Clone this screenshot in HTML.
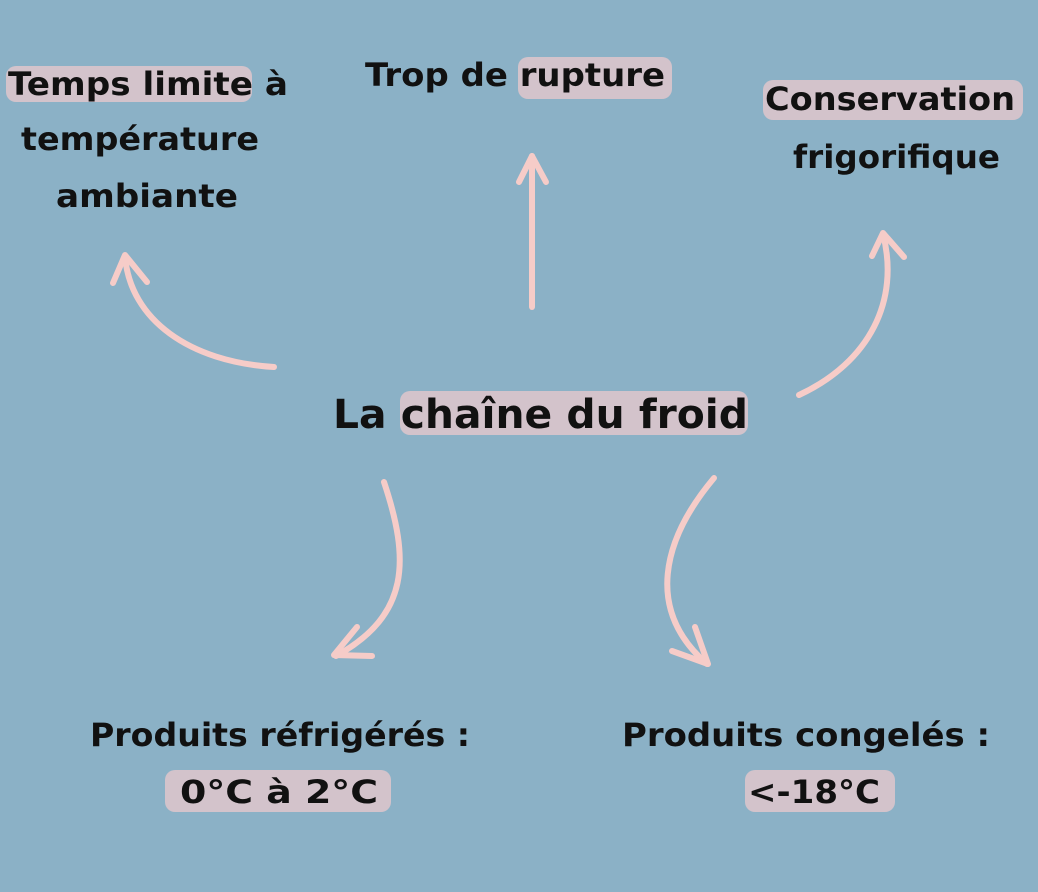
<!DOCTYPE html>
<html><head><meta charset="utf-8"><style>
html,body{margin:0;padding:0;background:#8bb1c6;}
svg{display:block}
text{font-family:"DejaVu Sans","Liberation Sans",sans-serif;font-weight:bold;fill:#111;}
</style></head><body>
<svg width="1038" height="892" viewBox="0 0 1038 892">
<rect width="1038" height="892" fill="#8bb1c6"/>
<g fill="#d3c3cb">
<rect x="6" y="66" width="246" height="36" rx="10"/>
<rect x="518" y="57" width="154" height="42" rx="10"/>
<rect x="763" y="80" width="260" height="40" rx="10"/>
<rect x="400" y="391" width="348" height="44" rx="10"/>
<rect x="165" y="770" width="226" height="42" rx="10"/>
<rect x="745" y="770" width="150" height="42" rx="10"/>
</g>
<g font-size="32">
<text x="8" y="95" textLength="280" lengthAdjust="spacingAndGlyphs">Temps limite à</text>
<text x="21" y="150" textLength="238" lengthAdjust="spacingAndGlyphs">température</text>
<text x="56" y="207" textLength="182" lengthAdjust="spacingAndGlyphs">ambiante</text>
<text x="365" y="86" textLength="300" lengthAdjust="spacingAndGlyphs">Trop de rupture</text>
<text x="765" y="110" textLength="250" lengthAdjust="spacingAndGlyphs">Conservation</text>
<text x="793" y="168" textLength="207" lengthAdjust="spacingAndGlyphs">frigorifique</text>
<text x="90" y="746" textLength="380" lengthAdjust="spacingAndGlyphs">Produits réfrigérés :</text>
<text x="180" y="803" textLength="198" lengthAdjust="spacingAndGlyphs">0°C à 2°C</text>
<text x="622" y="746" textLength="368" lengthAdjust="spacingAndGlyphs">Produits congelés :</text>
<text x="748" y="803" textLength="132" lengthAdjust="spacingAndGlyphs">&lt;-18°C</text>
</g>
<text x="333" y="428" font-size="40" textLength="415" lengthAdjust="spacingAndGlyphs">La chaîne du froid</text>
<g fill="none" stroke="#f6ccc8" stroke-width="6" stroke-linecap="round" stroke-linejoin="round">
<path d="M274 367 C190 362 130 320 125 256"/>
<path d="M113 283 L125 255 L147 282"/>
<path d="M532 307 L532 156"/>
<path d="M519 182 L532 156 L546 182"/>
<path d="M799 395 C870 362 900 300 883 234"/>
<path d="M872 256 L883 233 L904 257"/>
<path d="M384 482 C410 560 410 615 336 656"/>
<path d="M357 627 L334 655 L372 656"/>
<path d="M714 478 C662 540 645 610 707 664"/>
<path d="M695 627 L708 664 L672 651"/>
</g>
</svg>
</body></html>
